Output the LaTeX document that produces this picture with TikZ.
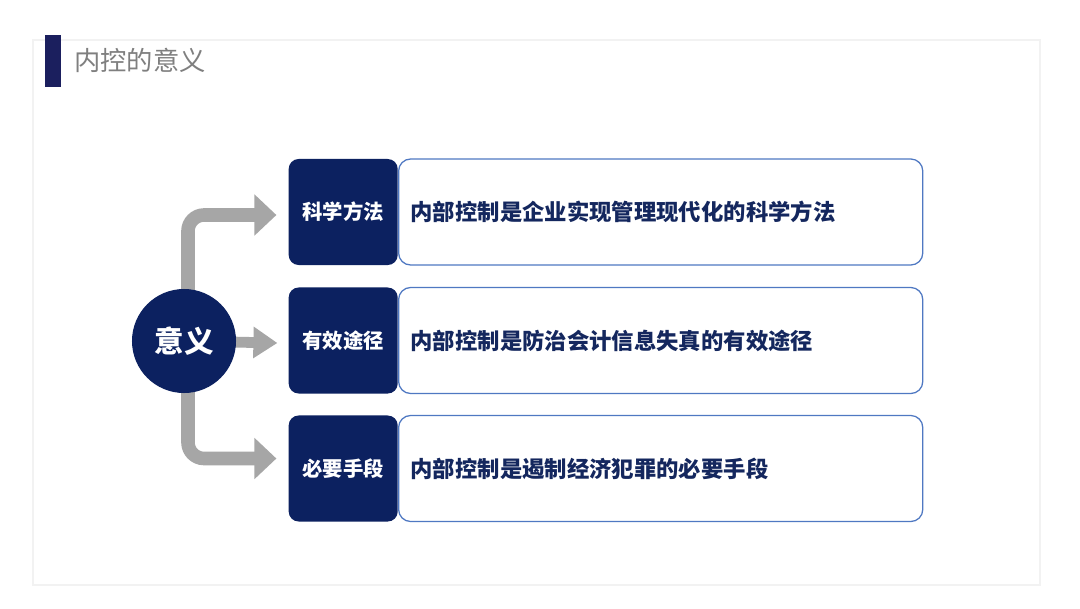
\documentclass[tikz,border=0pt]{standalone}
\usepackage{fontspec}
\usepackage{tikz}
\usetikzlibrary{arrows.meta,calc,backgrounds}
\newfontfamily\cjk{Noto Sans CJK SC}
\definecolor{lacivert}{HTML}{0C2160}
\definecolor{baslikLacivert}{HTML}{1B1F5E}
\definecolor{cerceveMavi}{HTML}{4F78C2}
\definecolor{yaziLacivert}{HTML}{14275E}
\definecolor{okGri}{HTML}{A6A6A6}
\definecolor{baslikGri}{HTML}{7F7F7F}

\begin{document}
\begin{tikzpicture}[x=0.025cm,y=-0.025cm,
  koyuKutu/.style={fill=lacivert,rounded corners=0.25cm,minimum width=2.725cm,minimum height=2.65cm,
    inner sep=0pt,anchor=east,text=white,font=\cjk\bfseries\fontsize{14.5}{16}\selectfont},
  acikKutu/.style={draw=cerceveMavi,line width=0.9pt,fill=white,rounded corners=0.3cm,anchor=west,
    minimum width=13.1cm,minimum height=2.65cm,text width=12.5cm,inner xsep=0.3cm,align=left,
    text=yaziLacivert,font=\cjk\bfseries\fontsize{15.9}{18}\selectfont},
  kalinOk/.style={okGri,line width=0.34cm,rounded corners=0.4cm,
    -{Triangle[length=0.55cm,width=1.0cm]}},
  inceOk/.style={okGri,line width=0.27cm,-{Triangle[length=0.6cm,width=0.75cm]}}]
\useasboundingbox (0,0) rectangle (1080,608);
% baslik
\fill[baslikLacivert] (45,35) rectangle (61,87);
\node[anchor=west,text=baslikGri,font=\cjk\fontsize{18.7}{20}\selectfont,inner sep=0pt] (baslik) at (74,60) {内控的意义};
% merkez
\node[circle,fill=lacivert,minimum size=2.6cm,inner sep=0pt,text=white,
  font=\cjk\bfseries\fontsize{21}{23}\selectfont] (anlam) at (184,341) {意义};
% kutular
\node[acikKutu] (t1) at (398,212) {内部控制是企业实现管理现代化的科学方法};
\node[acikKutu] (t2) at (398,340.5) {内部控制是防治会计信息失真的有效途径};
\node[acikKutu] (t3) at (398,468.5) {内部控制是遏制经济犯罪的必要手段};
\node[koyuKutu] (k1) at (t1.west) {科学方法};
\node[koyuKutu] (k2) at (t2.west) {有效途径};
\node[koyuKutu] (k3) at (t3.west) {必要手段};
% oklar
\begin{scope}[on background layer]
\fill[white] (0,0) rectangle (1080,608);
\draw[black!5,line width=0.8pt] (33,40) rectangle (1040,585);
\draw[kalinOk] ($(anlam.center)+(4,0)$) |- ($(k1.west)+(-12,3)$);
\draw[inceOk] (anlam.center) -- ($(k2.west)+(-11,2.5)$);
\draw[kalinOk] ($(anlam.center)+(4,0)$) |- ($(k3.west)+(-12,-10)$);
\end{scope}
\end{tikzpicture}
\end{document}
